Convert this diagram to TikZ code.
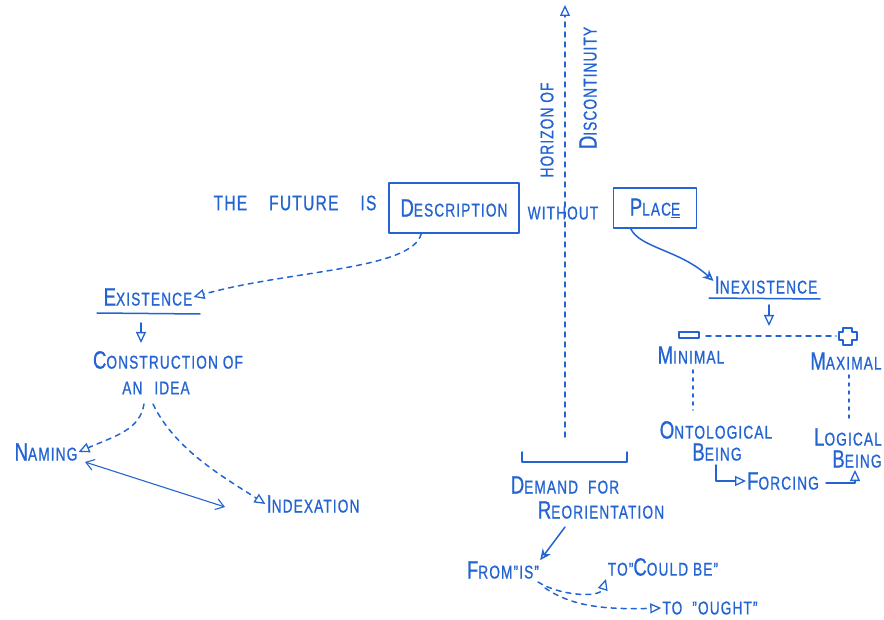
\documentclass[tikz,border=0pt]{standalone}
\usepackage{fontspec}
\setmainfont{Liberation Sans}[LetterSpace=6, FakeStretch=0.74, FakeBold=0.8]
\usetikzlibrary{arrows.meta}
\definecolor{ink}{RGB}{35,100,210}
% initial capital, set a little larger than the rest of the word
\newcommand\initcap[1]{{\fontsize{25}{25}\selectfont #1}}
\tikzset{
  ink line/.style={draw=ink, line width=1.5pt, line cap=round, line join=round},
  dash line/.style={ink line, dash pattern=on 5pt off 5pt},
  dot line/.style={ink line, dash pattern=on 3pt off 5pt},
  opentip/.style={-{Triangle[open, length=11pt, width=10pt, line width=1.3pt]}},
  barbtip/.style={{Straight Barb[length=8pt, width=11pt]}-{Straight Barb[length=8pt, width=11pt]}},
  word/.style={text=ink, inner sep=1pt, font=\fontsize{18.5}{18.5}\selectfont},
  bigword/.style={word, font=\fontsize{21}{21}\selectfont},
  framebox/.style={ink line, text=ink, inner sep=0pt}
}
\begin{document}
\begin{tikzpicture}[x=1pt, y=-1pt]
\useasboundingbox (0,0) rectangle (884,620);

% --- horizon of discontinuity ---
\coordinate (htop) at (565,5);
\coordinate (hbot) at (565,437);
\draw[dash line, opentip] (hbot) -- (htop);
\node[word, rotate=90] (horizon) at (547,130) {HORIZON OF};
\node[word, rotate=90] (discont) at (588,88) {\initcap{D}ISCONTINUITY};

% --- headline ---
\node[bigword] (future) at (295,203) {THE\hspace{22pt}FUTURE\hspace{22pt}IS};
\node[framebox, minimum width=130pt, minimum height=50pt, font=\fontsize{18.5}{18.5}\selectfont] (desc) at (454,208) {\initcap{D}ESCRIPTION};
\node[word] (without) at (563,213) {WITHOUT};
\node[framebox, minimum width=83pt, minimum height=40pt, font=\fontsize{18.5}{18.5}\selectfont] (place) at (655,208) {\initcap{P}LAC\underline{E}};

% --- existence branch ---
\node[word] (exist) at (148,297) {\initcap{E}XISTENCE};
\coordinate (exul) at (97,313);
\coordinate (exur) at (200,314);
\draw[ink line] (exul) -- (exur);
\draw[dash line, opentip] (desc.south west) ++(33,0) coordinate (dsrc)
  .. controls (412,270) and (290,270) .. (exist.east);
\node[word] (constr) at (168,360) {\initcap{C}ONSTRUCTION OF};
\node[word] (idea) at (156,388) {AN\hspace{12pt}IDEA};
\coordinate (ex1) at (141,323);
\coordinate (ex2) at (141,343);
\draw[ink line, opentip] (ex1) -- (ex2);
\node[word] (naming) at (46,452) {\initcap{N}AMING};
\node[word] (index) at (313,504) {\initcap{I}NDEXATION};
\coordinate (ida) at (144,404);
\coordinate (idb) at (153,404);
\draw[dash line, opentip] (ida) .. controls (140,430) and (115,436) .. (naming.east);
\draw[dash line, opentip] (idb) .. controls (175,450) and (225,478) .. (index.west);
\coordinate (nm) at (85,462);
\coordinate (ix) at (225,507);
\draw[ink line, line width=1.1pt, barbtip] (nm) -- (ix);

% --- inexistence branch ---
\node[word] (inexist) at (766,285) {\initcap{I}NEXISTENCE};
\coordinate (inul) at (709,298);
\coordinate (inur) at (820,299);
\draw[ink line] (inul) -- (inur);
\draw[ink line, -{Stealth[open, length=11pt, width=10pt]}] (place.south west) ++(18,0)
  .. controls (640,248) and (680,250) .. (inexist.west |- 0,281);
\coordinate (in1) at (769,305);
\coordinate (in2) at (769,326);
\draw[ink line, opentip] (in1) -- (in2);
\draw[ink line] (679,332) rectangle (699,338) coordinate (minusbox);
\node (plus) at (848,336) {};
\draw[ink line, line width=1.2pt]
  (843,328) -- (843,332) -- (839,332) -- (839,340) -- (843,340) -- (843,345)
  -- (852,345) -- (852,340) -- (857,340) -- (857,332) -- (852,332) -- (852,328) -- cycle;
\coordinate (mr) at (706,336);
\coordinate (pl) at (836,336);
\draw[dash line] (mr) -- (pl);
\node[word] (minimal) at (691,355) {\initcap{M}INIMAL};
\node[word] (maximal) at (846,361) {\initcap{M}AXIMAL};
\node[word] (onto) at (716,430) {\initcap{O}NTOLOGICAL};
\node[word] (being1) at (717,452) {\initcap{B}EING};
\node[word] (logic) at (848,437) {\initcap{L}OGICAL};
\node[word] (being2) at (857,459) {\initcap{B}EING};
\draw[dot line] (693,370) -- (693,410) coordinate (ontotop);
\draw[dot line] (849,375) -- (849,420) coordinate (logtop);
\node[word] (forcing) at (783,481) {\initcap{F}ORCING};
\coordinate (f1) at (716,465);
\draw[ink line, opentip] (f1) |- (forcing.west);
\coordinate (f2) at (855,470);
\draw[ink line, opentip] (forcing.east) ++(6,2) -| (f2);

% --- demand for reorientation ---
\coordinate (brl) at (522,452);
\coordinate (brr) at (627,452);
\draw[ink line] (brl) -- ++(0,10) -- (627,462) -- (brr);
\node[word] (demand) at (565,485) {\initcap{D}EMAND\hspace{10pt}FOR};
\node[word] (reorient) at (601,510) {\initcap{R}EORIENTATION};
\node[word] (from) at (503,570) {\initcap{F}ROM"IS"};
\node[word] (could) at (663,567) {TO"\initcap{C}OULD BE"};
\node[word] (ought) at (710,608) {TO\hspace{10pt}"OUGHT"};
\coordinate (dm) at (565,527);
\draw[ink line, -{Stealth[open, length=11pt, width=10pt]}] (dm) -- (from.north east);
\coordinate (fa) at (538,582);
\coordinate (fb) at (545,588);
\draw[dash line, opentip] (fa) .. controls (560,596) and (600,598) .. (606,579);
\draw[dash line, opentip] (fb) .. controls (570,605) and (600,610) .. (ought.west);
\end{tikzpicture}
\end{document}
